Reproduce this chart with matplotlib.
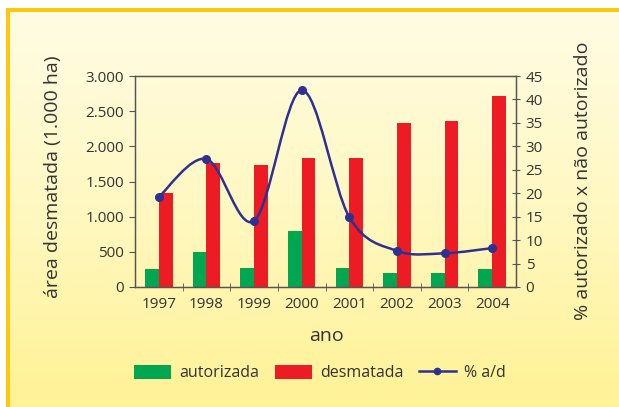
import numpy as np
import matplotlib
matplotlib.use('Agg')
import matplotlib.pyplot as plt
from matplotlib.path import Path
from matplotlib.patches import PathPatch, Patch, Rectangle
from matplotlib.lines import Line2D
from matplotlib.ticker import FuncFormatter, FixedLocator

plt.rcParams['font.family'] = ['Open Sans', 'DejaVu Sans']
plt.rcParams['font.weight'] = 500

# data
anos = ['1997', '1998', '1999', '2000', '2001', '2002', '2003', '2004']
autorizada = [260, 500, 270, 790, 270, 200, 200, 250]
desmatada = [1335, 1760, 1730, 1830, 1830, 2330, 2360, 2710]
pct_ad = [19.2, 27.3, 14.1, 42.0, 14.9, 7.7, 7.2, 8.3]

green = '#00a650'
red = '#ed1c24'
blue = '#2e3192'
txt = '#333333'

fig = plt.figure(figsize=(6.19, 4.07), dpi=100)

# background gradient + orange border strips
bg = fig.add_axes([0, 0, 1, 1], zorder=-10)
grad = np.linspace(0, 1, 256).reshape(-1, 1)
cmap = matplotlib.colors.LinearSegmentedColormap.from_list('bg', ['#fffce6', '#fff8c2', '#fff296'])
bg.imshow(grad, aspect='auto', cmap=cmap, extent=[0, 1, 0, 1], origin='upper')
bg.set_xlim(0, 1)
bg.set_ylim(0, 1)
bg.axis('off')
bg.add_patch(Rectangle((0.0, 0.0), 6 / 619, 1, color='white', lw=0))
bg.add_patch(Rectangle((0.0, 1 - 8 / 407), 1, 8 / 407, color='white', lw=0))
bg.add_patch(Rectangle((6 / 619, 0.0), 4 / 619, 1 - 8 / 407, color='#fdc80c', lw=0))
bg.add_patch(Rectangle((6 / 619, 1 - 12 / 407), 1, 4 / 407, color='#fdc80c', lw=0))

ax = fig.add_axes([135 / 619, 1 - 287 / 407, 381 / 619, 211 / 407])
ax.patch.set_alpha(0)
x = np.arange(len(anos))
w = 0.29
ax.bar(x - w / 2, autorizada, w, color=green, lw=0, zorder=2)
ax.bar(x + w / 2, desmatada, w, color=red, lw=0, zorder=2)
ax.set_xlim(-0.5, len(anos) - 0.5)
ax.set_ylim(0, 3000)
ax.set_yticks(np.arange(0, 3001, 500))
ax.yaxis.set_major_formatter(FuncFormatter(lambda v, p: f'{int(v):,}'.replace(',', '.')))
ax.set_xticks(x)
ax.set_xticklabels(anos)
ax.xaxis.set_minor_locator(FixedLocator(np.arange(0.5, len(anos) - 0.5, 1)))
ax.tick_params(axis='x', which='major', length=0, pad=7, labelsize=11, labelcolor=txt)
ax.tick_params(axis='x', which='minor', length=6, direction='inout', color='#555555')
ax.tick_params(axis='y', length=4, direction='out', color='#555555', labelsize=11, labelcolor=txt, pad=4)
for s in ax.spines.values():
    s.set_color('#555555')
    s.set_linewidth(1.0)

ax2 = ax.twinx()
ax2.set_ylim(0, 45)
ax2.set_yticks(np.arange(0, 46, 5))
ax2.tick_params(axis='y', length=6, direction='inout', color='#555555', labelsize=11, labelcolor=txt, pad=4)
for s in ax2.spines.values():
    s.set_color('#555555')

# smooth line through the points (Catmull-Rom as bezier segments)
pts = np.column_stack([x, pct_ad]).astype(float)
ext = np.vstack([pts[0], pts, pts[-1]])
verts = [pts[0]]
codes = [Path.MOVETO]
for i in range(1, len(ext) - 2):
    p0, p1, p2, p3 = ext[i - 1], ext[i], ext[i + 1], ext[i + 2]
    verts += [p1 + (p2 - p0) / 6, p2 - (p3 - p1) / 6, p2]
    codes += [Path.CURVE4] * 3
ax2.add_patch(PathPatch(Path(verts, codes), fill=False, ec=blue, lw=1.8, zorder=3))
ax2.plot(x, pct_ad, 'o', color=blue, ms=5.5, zorder=4)

fig.text(53 / 619, 1 - 177 / 407, 'área desmatada (1.000 ha)', rotation=90,
         ha='center', va='center', fontsize=14, color=txt)
fig.text(583 / 619, 1 - 181 / 407, '% autorizado x não autorizado', rotation=90,
         ha='center', va='center', fontsize=14, color=txt)
fig.text(327 / 619, 1 - 336 / 407, 'ano', ha='center', va='center', fontsize=14, color=txt)

handles = [Patch(color=green, lw=0), Patch(color=red, lw=0),
           Line2D([], [], color=blue, lw=1.8, marker='o', ms=4.5)]
fig.legend(handles, ['autorizada', 'desmatada', '% a/d'], loc='center',
           bbox_to_anchor=(320 / 619, 1 - 373 / 407), ncol=3, frameon=False,
           fontsize=11.5, handlelength=2.3, handleheight=1.05, columnspacing=1.0,
           handletextpad=0.5, labelcolor=txt)

fig.savefig('out.png', dpi=100)
